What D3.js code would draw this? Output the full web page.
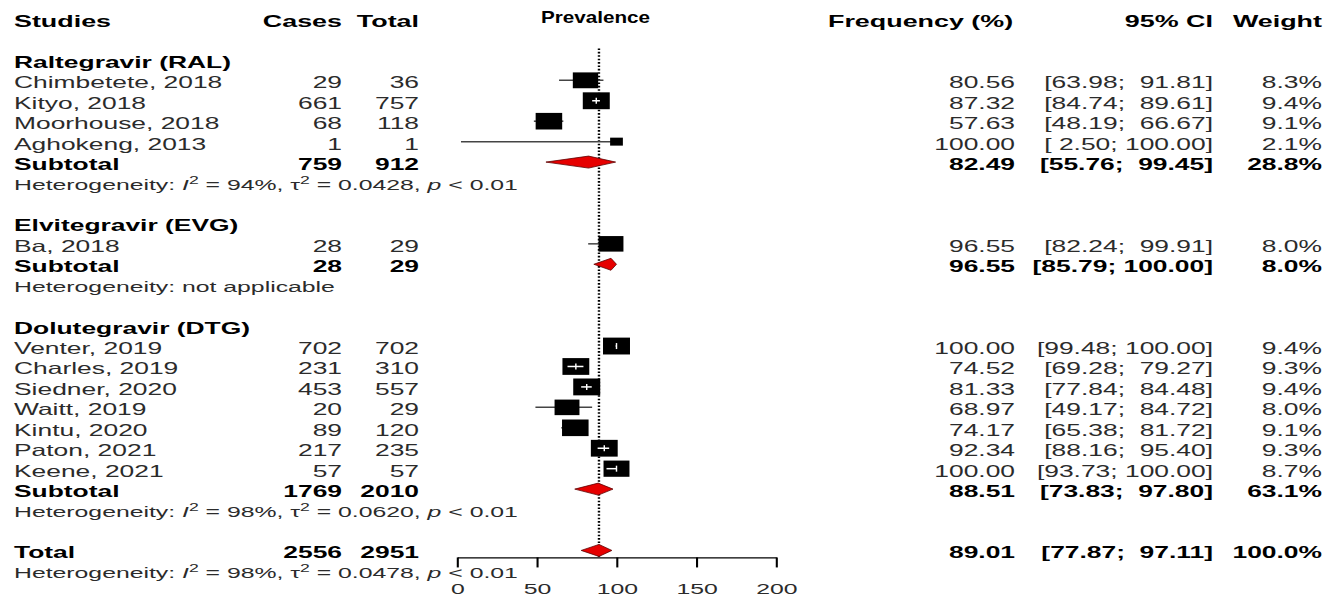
<!DOCTYPE html>
<html>
<head>
<meta charset="utf-8">
<script src="https://cdn.jsdelivr.net/npm/d3@7"></script>
<style>
  body { margin: 0; background: #fff; }
  svg text { font-family: "Liberation Sans", Arial, sans-serif; }
</style>
</head>
<body>
<div id="svg-container"></div>
<script>
// the picture is stretched sideways, so everything sits in a group scaled on x
const sx = 1.6

const groupNames = ["Raltegravir (RAL)", "Elvitegravir (EVG)", "Dolutegravir (DTG)"]
const studies = ["Chimbetete, 2018", "Kityo, 2018", "Moorhouse, 2018", "Aghokeng, 2013",
  "Ba, 2018",
  "Venter, 2019", "Charles, 2019", "Siedner, 2020", "Waitt, 2019", "Kintu, 2020", "Paton, 2021", "Keene, 2021"]
const studyGroup = [0, 0, 0, 0, 1, 2, 2, 2, 2, 2, 2, 2]
const cases = [29, 661, 68, 1, 28, 702, 231, 453, 20, 89, 217, 57]
const totals = [36, 757, 118, 1, 29, 702, 310, 557, 29, 120, 235, 57]
const freq = [80.56, 87.32, 57.63, 100.00, 96.55, 100.00, 74.52, 81.33, 68.97, 74.17, 92.34, 100.00]
const lower = [63.98, 84.74, 48.19, 2.50, 82.24, 99.48, 69.28, 77.84, 49.17, 65.38, 88.16, 93.73]
const upper = [91.81, 89.61, 66.67, 100.00, 99.91, 100.00, 79.27, 84.48, 84.72, 81.72, 95.40, 100.00]
const weight = [8.3, 9.4, 9.1, 2.1, 8.0, 9.4, 9.3, 9.4, 8.0, 9.1, 9.3, 8.7]

const subCases = [759, 28, 1769]
const subTotals = [912, 29, 2010]
const subFreq = [82.49, 96.55, 88.51]
const subLower = [55.76, 85.79, 73.83]
const subUpper = [99.45, 100.00, 97.80]
const subWeight = [28.8, 8.0, 63.1]
const hetI2 = ["94%", null, "98%"]
const hetTau2 = ["0.0428", null, "0.0620"]

const totalCases = 2556
const totalTotal = 2951
const totalFreq = 89.01
const totalLower = 77.87
const totalUpper = 97.11
const totalWeight = 100.0
const totalI2 = "98%"
const totalTau2 = "0.0478"

const xTicks = [0, 50, 100, 150, 200]

const svg = d3.select("#svg-container")
  .append("svg")
    .attr("width", 1341)
    .attr("height", 599)

const g = svg.append("g").attr("transform", `scale(${sx},1)`)

const X = px => px / sx
const rowY = k => 19 + 20.44 * k

const xScale = d3.scaleLinear()
  .domain([0, 200])
  .range([X(457), X(776)])

const cols = { study: X(14), cases: X(342), total: X(419), freq: X(1015), ci: X(1213), weight: X(1322) }

const fmtCI = (lo, hi) => `[${lo.toFixed(2).padStart(5)}; ${hi.toFixed(2).padStart(6)}]`

// build the rows
const rows = []
let k = 2
groupNames.forEach((name, gi) => {
  rows.push({ k: k++, type: "group", label: name })
  studies.forEach((s, i) => {
    if (studyGroup[i] !== gi) return
    rows.push({ k: k++, type: "study", label: s, cases: cases[i], total: totals[i],
      est: freq[i], lo: lower[i], hi: upper[i], w: weight[i] })
  })
  rows.push({ k: k++, type: "sub", label: "Subtotal", cases: subCases[gi], total: subTotals[gi],
    est: subFreq[gi], lo: subLower[gi], hi: subUpper[gi], w: subWeight[gi] })
  rows.push({ k: k++, type: "het", i2: hetI2[gi], tau2: hetTau2[gi] })
  k++
})
rows.push({ k: k++, type: "sub", label: "Total", cases: totalCases, total: totalTotal,
  est: totalFreq, lo: totalLower, hi: totalUpper, w: totalWeight })
rows.push({ k: k++, type: "het", i2: totalI2, tau2: totalTau2 })

// header
const header = [
  { t: "Studies", x: cols.study, a: "start", fs: 16.8 },
  { t: "Cases", x: cols.cases, a: "end", fs: 16.8 },
  { t: "Total", x: cols.total, a: "end", fs: 16.8 },
  { t: "Frequency (%)", x: X(828), a: "start", fs: 16.8 },
  { t: "95% CI", x: cols.ci, a: "end", fs: 16.8 },
  { t: "Weight", x: cols.weight, a: "end", fs: 16.8 }
]
g.selectAll(".hdr")
  .data(header)
  .join("text")
    .attr("class", "hdr")
    .attr("x", d => d.x)
    .attr("y", rowY(0) + 8)
    .attr("text-anchor", d => d.a)
    .style("font-size", d => d.fs + "px")
    .style("font-weight", "bold")
    .text(d => d.t)

// plot title is narrower than the rest of the text
g.append("text")
  .attr("x", X(541))
  .attr("y", rowY(0) + 4)
  .attr("textLength", X(109))
  .attr("lengthAdjust", "spacingAndGlyphs")
  .style("font-size", "16.5px")
  .style("font-weight", "bold")
  .text("Prevalence")

// reference line at the overall estimate
g.append("line")
  .attr("x1", xScale(totalFreq))
  .attr("x2", xScale(totalFreq))
  .attr("y1", rowY(1) + 9)
  .attr("y2", rowY(26) + 7)
  .attr("stroke", "#000")
  .attr("stroke-width", 1.5)
  .attr("stroke-dasharray", "1.6,1.8")

// text columns
const textRows = rows.filter(d => d.type !== "het")
textRows.forEach(d => {
  const bold = d.type !== "study"
  const y = rowY(d.k) + 8
  const fill = bold ? "#000" : "#2b2b2b"
  const cells = [{ t: d.label, x: cols.study, a: "start" }]
  if (d.type !== "group") {
    cells.push({ t: d.cases, x: cols.cases, a: "end" })
    cells.push({ t: d.total, x: cols.total, a: "end" })
    cells.push({ t: d.est.toFixed(2), x: cols.freq, a: "end" })
    cells.push({ t: fmtCI(d.lo, d.hi), x: cols.ci, a: "end" })
    cells.push({ t: d.w.toFixed(1) + "%", x: cols.weight, a: "end" })
  }
  cells.forEach(c => {
    g.append("text")
      .attr("x", c.x)
      .attr("y", y)
      .attr("text-anchor", c.a)
      .attr("xml:space", "preserve")
      .style("white-space", "pre")
      .style("font-size", "16.5px")
      .style("font-weight", bold ? "bold" : "normal")
      .attr("fill", fill)
      .text(c.t)
  })
})

// heterogeneity lines
rows.filter(d => d.type === "het").forEach(d => {
  const t = g.append("text")
    .attr("x", cols.study)
    .attr("y", rowY(d.k) + 7)
    .attr("xml:space", "preserve")
    .style("font-size", "15.5px")
    .attr("fill", "#2b2b2b")
  if (!d.i2) {
    t.text("Heterogeneity: not applicable")
    return
  }
  t.append("tspan").text("Heterogeneity: ")
  t.append("tspan").style("font-style", "italic").text("I")
  t.append("tspan").attr("dy", -6).style("font-size", "11px").text("2")
  t.append("tspan").attr("dy", 6).text(` = ${d.i2}, \u03c4`)
  t.append("tspan").attr("dy", -6).style("font-size", "11px").text("2")
  t.append("tspan").attr("dy", 6).text(` = ${d.tau2}, `)
  t.append("tspan").style("font-style", "italic").text("p")
  t.append("tspan").text(" < 0.01")
})

// study CIs and boxes
const studyRows = rows.filter(d => d.type === "study")
const side = w => 5.5 * Math.sqrt(w)

studyRows.forEach(d => {
  const y = rowY(d.k)
  const s = side(d.w)
  const bx0 = xScale(d.est) - s / 2
  const bx1 = xScale(d.est) + s / 2
  const inside = xScale(d.lo) >= bx0 && xScale(d.hi) <= bx1
  if (!inside) {
    g.append("line")
      .attr("x1", xScale(d.lo)).attr("x2", xScale(d.hi))
      .attr("y1", y).attr("y2", y)
      .attr("stroke", "#444").attr("stroke-width", 1.5)
  }
  g.append("rect")
    .attr("x", bx0)
    .attr("y", y - s / 2)
    .attr("width", s)
    .attr("height", s)
    .attr("fill", "#000")
  if (inside) {
    g.append("line")
      .attr("x1", xScale(d.lo)).attr("x2", xScale(d.hi))
      .attr("y1", y).attr("y2", y)
      .attr("stroke", "#fff").attr("stroke-width", 1.5)
    g.append("line")
      .attr("x1", xScale(d.est)).attr("x2", xScale(d.est))
      .attr("y1", y - 3).attr("y2", y + 3)
      .attr("stroke", "#fff").attr("stroke-width", 0.9)
  }
})

// diamonds
g.selectAll(".diamond")
  .data(rows.filter(d => d.type === "sub"))
  .join("path")
    .attr("class", "diamond")
    .attr("d", d => {
      const y = rowY(d.k)
      return `M${xScale(d.lo)},${y}L${xScale(d.est)},${y - 6}L${xScale(d.hi)},${y}L${xScale(d.est)},${y + 6}Z`
    })
    .attr("fill", "#e60000")
    .attr("stroke", "#5a0000")
    .attr("stroke-width", 0.6)

// x axis
const axis = g.append("g")
  .attr("transform", `translate(0, ${rowY(26) + 7})`)
  .call(d3.axisBottom(xScale).tickValues(xTicks).tickSize(10).tickSizeOuter(0).tickPadding(16))

axis.select(".domain").attr("stroke", "#000").attr("stroke-width", 1.3)
axis.selectAll(".tick line").attr("stroke", "#000").attr("stroke-width", 1.3)
axis.selectAll(".tick text")
  .attr("fill", "#2b2b2b")
  .style("font-family", "'Liberation Sans', Arial, sans-serif")
  .style("font-size", "15.5px")
</script>
</body>
</html>
